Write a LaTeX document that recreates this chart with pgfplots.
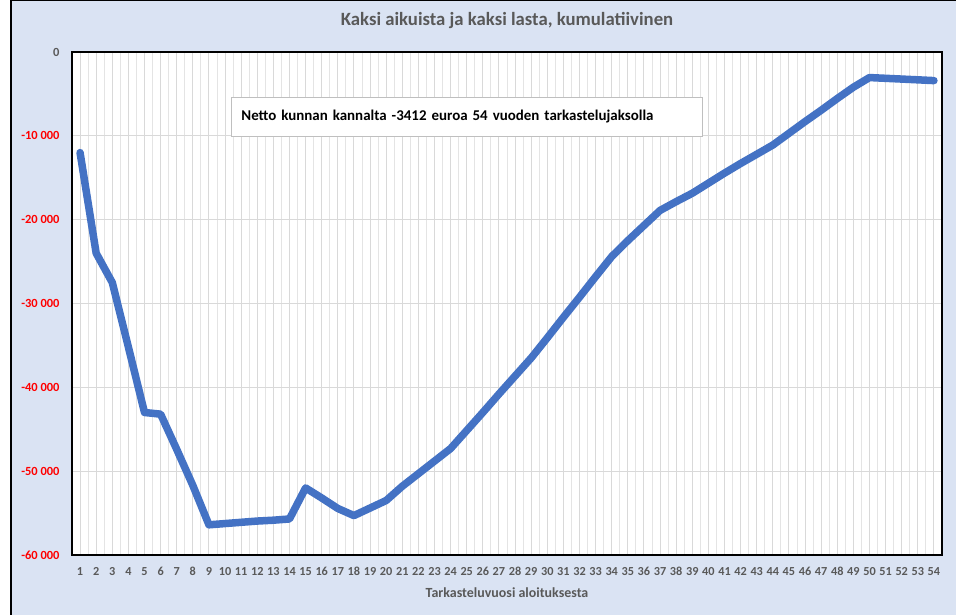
\documentclass[border=0pt]{standalone}
\usepackage{fontspec}
\setmainfont{Carlito}
\usepackage{pgfplots}
\pgfplotsset{compat=1.18}
\definecolor{bgblue}{HTML}{DAE3F3}
\definecolor{txtgray}{HTML}{595959}
\definecolor{gridgray}{HTML}{D9D9D9}
\definecolor{gridlight}{HTML}{E4E4E4}
\definecolor{lineblue}{HTML}{4472C4}
\definecolor{boxgray}{HTML}{BFBFBF}
\begin{document}
\begin{tikzpicture}
\useasboundingbox (0,0) rectangle (956bp,615bp);
\fill[bgblue] (11bp,0) rectangle (956bp,615bp);
\draw[black, line width=1.2bp] (11bp,0) -- (11bp,614.4bp) -- (956bp,614.4bp);
\begin{axis}[
    at={(72bp,60bp)}, anchor=south west,
    scale only axis,
    width=870bp, height=503bp,
    xmin=0.5, xmax=54.5,
    ymin=-60000, ymax=0,
    scaled y ticks=false,
    xtick={1,...,54},
    minor xtick={1.5,2.5,...,53.5},
    ytick={-60000,-50000,-40000,-30000,-20000,-10000,0},
    yticklabels={{\textcolor{red}{-60 000}},{\textcolor{red}{-50 000}},{\textcolor{red}{-40 000}},{\textcolor{red}{-30 000}},{\textcolor{red}{-20 000}},{\textcolor{red}{-10 000}},{\textcolor{txtgray}{0}}},
    major tick length=0pt, minor tick length=0pt,
    xmajorgrids, xminorgrids, ymajorgrids,
    major grid style={gridgray, line width=0.9bp},
    minor grid style={gridlight, line width=0.9bp},
    axis line style={black, line width=1.2bp},
    axis background/.style={fill=white},
    xticklabel style={font=\bfseries\fontsize{12.3}{14}\selectfont, text=txtgray, yshift=-9bp, /pgf/number format/assume math mode=true},
    yticklabel style={font=\bfseries\fontsize{12.5}{14}\selectfont, xshift=-9bp},
    xlabel={Tarkasteluvuosi aloituksesta},
    xlabel style={font=\bfseries\fontsize{14}{16}\selectfont, text=txtgray, at={(axis description cs:0.5,0)}, anchor=center, yshift=-38bp},
    title={Kaksi aikuista ja kaksi lasta, kumulatiivinen},
    title style={font=\bfseries\fontsize{18.8}{21}\selectfont, text=txtgray, at={(axis description cs:0.5,1)}, anchor=center, yshift=26bp},
    clip=false,
]
\addplot[lineblue, line width=7.5bp, line join=round, line cap=round] coordinates {
(1,-12000) (2,-24000) (3,-27500) (4,-35200) (5,-43000) (6,-43200)
(7,-47400) (8,-51700) (9,-56400) (10,-56250) (11,-56100) (12,-55950)
(13,-55850) (14,-55700) (15,-52000) (16,-53200) (17,-54450) (18,-55300)
(19,-54400) (20,-53500) (21,-51800) (22,-50300) (23,-48800) (24,-47300)
(25,-45150) (26,-43000) (27,-40800) (28,-38650) (29,-36500) (30,-34100)
(31,-31650) (32,-29250) (33,-26800) (34,-24400) (35,-22500) (36,-20700)
(37,-18900) (38,-17850) (39,-16850) (40,-15650) (41,-14450) (42,-13300)
(43,-12200) (44,-11100) (45,-9700) (46,-8300) (47,-6950) (48,-5550)
(49,-4200) (50,-3050) (51,-3140) (52,-3230) (53,-3320) (54,-3412)
};
\node[draw=boxgray, fill=white, line width=0.8bp, anchor=north west,
      minimum width=471bp, minimum height=39bp, text width=451bp,
      inner xsep=10bp, align=left,
      font=\bfseries\fontsize{15}{17}\selectfont]
  at (axis description cs:0.1828,0.9105) {Netto kunnan kannalta -3412 euroa 54 vuoden tarkastelujaksolla};
\end{axis}
\end{tikzpicture}
\end{document}
